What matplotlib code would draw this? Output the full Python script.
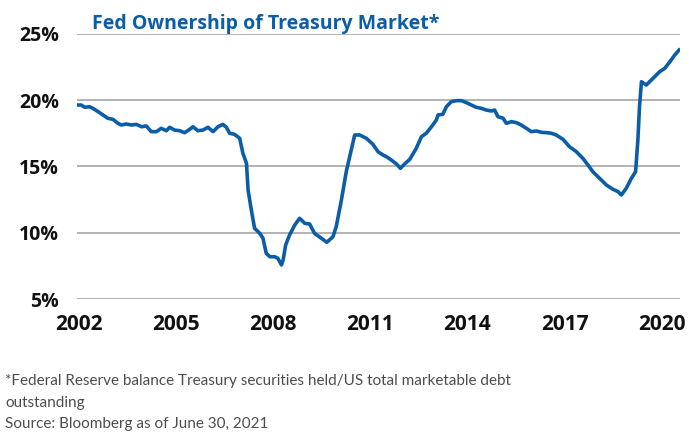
import matplotlib
matplotlib.use("Agg")
import matplotlib.pyplot as plt

# monthly-ish readings of Fed share of marketable Treasury debt (%)
years = [2002.00, 2002.08, 2002.19, 2002.34, 2002.44, 2002.60, 2002.75, 2002.90,
         2003.06, 2003.21, 2003.32, 2003.47, 2003.63, 2003.78, 2003.94, 2004.09,
         2004.24, 2004.40, 2004.55, 2004.71, 2004.81, 2004.96, 2005.12, 2005.27,
         2005.43, 2005.53, 2005.68, 2005.84, 2005.99, 2006.15, 2006.30, 2006.45,
         2006.56, 2006.66, 2006.81, 2006.97, 2007.07, 2007.18, 2007.23, 2007.33,
         2007.43, 2007.59, 2007.69, 2007.79, 2007.90, 2008.05, 2008.15, 2008.26,
         2008.31, 2008.39, 2008.51, 2008.67, 2008.82, 2008.98, 2009.13, 2009.28,
         2009.49, 2009.66, 2009.85, 2009.95, 2010.11, 2010.26, 2010.39, 2010.52,
         2010.67, 2010.88, 2011.08, 2011.24, 2011.39, 2011.50, 2011.65, 2011.81,
         2011.93, 2012.06, 2012.22, 2012.42, 2012.58, 2012.73, 2012.89, 2013.04,
         2013.09, 2013.24, 2013.35, 2013.50, 2013.66, 2013.81, 2013.97, 2014.12,
         2014.27, 2014.43, 2014.58, 2014.74, 2014.84, 2014.94, 2015.10, 2015.20,
         2015.36, 2015.51, 2015.66, 2015.82, 2015.97, 2016.13, 2016.28, 2016.44,
         2016.59, 2016.74, 2016.95, 2017.15, 2017.36, 2017.56, 2017.72, 2017.87,
         2018.08, 2018.29, 2018.49, 2018.65, 2018.75, 2018.90, 2019.06, 2019.19,
         2019.26, 2019.31, 2019.37, 2019.52, 2019.62, 2019.78, 2019.93, 2020.09,
         2020.25, 2020.40, 2020.53]
share = [19.64, 19.64, 19.47, 19.51, 19.39, 19.14, 18.89, 18.64,
         18.56, 18.26, 18.13, 18.21, 18.13, 18.18, 18.00, 18.06,
         17.63, 17.63, 17.88, 17.70, 17.96, 17.75, 17.70, 17.55,
         17.81, 18.00, 17.70, 17.75, 17.96, 17.63, 18.00, 18.18,
         17.96, 17.51, 17.43, 17.13, 16.00, 15.24, 13.23, 11.72,
         10.34, 9.96, 9.58, 8.45, 8.19, 8.19, 8.07, 7.57,
         7.94, 9.08, 9.83, 10.58, 11.09, 10.71, 10.66, 9.96,
         9.58, 9.28, 9.70, 10.46, 12.47, 14.61, 16.00, 17.38,
         17.38, 17.13, 16.68, 16.12, 15.87, 15.74, 15.49, 15.19,
         14.86, 15.19, 15.54, 16.37, 17.25, 17.51, 18.00, 18.51,
         18.89, 18.94, 19.51, 19.89, 19.97, 19.97, 19.82, 19.64,
         19.47, 19.39, 19.26, 19.19, 19.26, 18.76, 18.64, 18.26,
         18.38, 18.31, 18.13, 17.88, 17.63, 17.68, 17.58, 17.55,
         17.51, 17.38, 17.05, 16.49, 16.12, 15.62, 15.11, 14.61,
         14.11, 13.60, 13.28, 13.10, 12.85, 13.35, 14.11, 14.61,
         17.00, 19.51, 21.40, 21.15, 21.40, 21.78, 22.15, 22.41,
         22.91, 23.42, 23.79]
year_ticks = [2002, 2005, 2008, 2011, 2014, 2017, 2020]
pct_ticks = [5, 10, 15, 20, 25]
notes = ["*Federal Reserve balance Treasury securities held/US total marketable debt",
         "outstanding",
         "Source: Bloomberg as of June 30, 2021"]

blue = "#0b5da8"

fig = plt.figure(figsize=(7, 4.4), dpi=100)
ax = fig.add_axes([77/700, 1 - 299/440, (680-77)/700, (299-34)/440])

ax.plot(years, share, color=blue, lw=2.6, solid_joinstyle="round")

ax.set_xlim(2001.95, 2020.56)
ax.set_ylim(5, 25)
ax.set_yticks(pct_ticks)
ax.set_yticklabels([f"{v}%" for v in pct_ticks])
ax.set_xticks(year_ticks)
ax.set_xticklabels([str(y) for y in year_ticks])
ax.grid(axis="y", color="#a6a6a6", lw=1.2)
ax.set_axisbelow(True)
for s in ax.spines.values():
    s.set_visible(False)
ax.tick_params(length=0)
ax.tick_params(axis="y", pad=13, labelsize=14)
ax.tick_params(axis="x", pad=11, labelsize=15)
for lab in ax.get_xticklabels() + ax.get_yticklabels():
    lab.set_fontfamily("Open Sans")
    lab.set_fontweight("bold")
    lab.set_color("#111111")

fig.text(92/700, 1 - 29/440, "Fed Ownership of Treasury Market*", color=blue,
         fontsize=14, fontweight="bold", family="Open Sans", va="baseline")

# footnote, one line at a time
for i, line in enumerate(notes):
    fig.text(5/700, 1 - (385 + 21.5*i)/440, line, color="#4d4d4d",
             fontsize=11, family="Lato", va="baseline")

fig.savefig("out.png", dpi=100)
